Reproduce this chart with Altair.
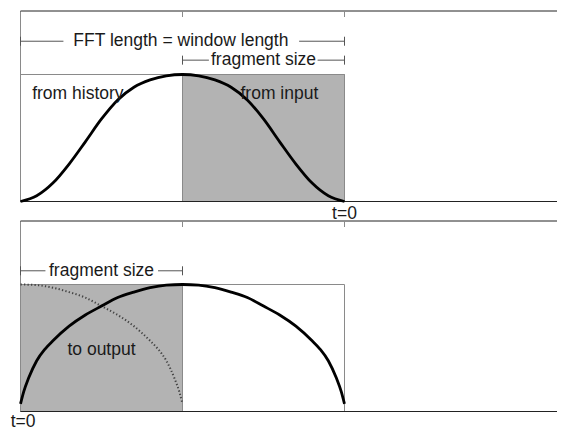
import altair as alt
import pandas as pd

# ---------------- data (x in fragment lengths from the window start, y in window amplitude) -------------
# analysis window (top): amplitude vs distance from the peak
analysis_d = [0.0, 0.1, 0.2, 0.3, 0.4, 0.5, 0.6, 0.7, 0.8, 0.9, 1.0]
analysis_v = [1.0, 0.99, 0.958, 0.9, 0.8, 0.65, 0.47, 0.295, 0.145, 0.045, 0.0]
# synthesis window (bottom): amplitude vs distance from the peak
synthesis_d = [0.0, 0.1, 0.2, 0.3, 0.4, 0.5, 0.6, 0.7, 0.8, 0.85, 0.9, 0.95, 0.98, 1.0]
synthesis_v = [1.0, 0.995, 0.975, 0.94, 0.897, 0.83, 0.76, 0.672, 0.557, 0.49, 0.40, 0.263, 0.157, 0.06]

panels = ["top", "bottom"]
panel_base = [2 / 127, -208 / 127]      # vertical offset of each panel's baseline
panel_block = [(1.0, 2.0), (0.0, 1.0)]  # shaded fragment in each panel

frame_top = 1.5
frame_right = 3.5
tick_u = [1.0, 2.0]

# dimension lines: (panel, y, [segments], [end bars])
dims = [
    ("top", 1.262, [(0.0, 0.265), (1.72, 2.0)], [0.0, 2.0]),
    ("top", 1.113, [(1.0, 1.163), (1.834, 2.0)], [1.0, 2.0]),
    ("bottom", 1.108, [(0.0, 0.154), (0.849, 1.0)], [0.0, 1.0]),
]
dim_labels = [("top", "FFT length = window length", 0.99, 1.262),
              ("top", "fragment size", 1.5, 1.113),
              ("bottom", "fragment size", 0.5, 1.108)]
left_labels = [("top", "from history", 0.072, 0.811),
               ("top", "from input", 1.358, 0.811)]
center_labels = [("top", "t=0", 2.0, -0.136),
                 ("bottom", "to output", 0.5, 0.446),
                 ("bottom", "t=0", 0.016, -0.122)]

# ---------------- scales ----------------
W, H = 549, 423
UNIT_X = 162.0
UNIT_Y = 127.0
XDOM = [(8 - 20.5) / UNIT_X, (8 + W - 20.5) / UNIT_X]
YDOM = [(203.5 - (8 + H)) / UNIT_Y, (203.5 - 8) / UNIT_Y]
base = dict(zip(panels, panel_base))


def X(f="u"):
    return alt.X(f"{f}:Q", scale=alt.Scale(domain=XDOM), axis=None)


def Y(f="y"):
    return alt.Y(f"{f}:Q", scale=alt.Scale(domain=YDOM), axis=None)


# ---------------- tables ----------------
frame_h, frame_v, ticks, blocks, outlines = [], [], [], [], []
for p, b, blk in zip(panels, panel_base, panel_block):
    frame_h += [dict(u=0.0, u2=frame_right, y=b + frame_top, y2=b + frame_top),
                dict(u=0.0, u2=frame_right, y=b, y2=b)]
    frame_v.append(dict(u=0.0, u2=0.0, y=b, y2=b + frame_top))
    for t in tick_u:
        ticks.append(dict(u=t, u2=t, y=b + frame_top - 6 / UNIT_Y, y2=b + frame_top))
    blocks.append(dict(u=blk[0], u2=blk[1], y=b, y2=b + 1.0))
    outlines.append(dict(u=0.0, u2=2.0, y=b, y2=b + 1.0))

dim_rows = []
for p, yv, segs, bars in dims:
    b = base[p]
    for s0, s1 in segs:
        dim_rows.append(dict(u=s0, u2=s1, y=b + yv, y2=b + yv))
    for bu in bars:
        dim_rows.append(dict(u=bu, u2=bu, y=b + yv - 4.5 / UNIT_Y, y2=b + yv + 4.5 / UNIT_Y))


def curve(d, v, b, mode):
    rows = []
    for dd, vv in zip(d, v):
        if mode == "sym":
            rows.append(dict(u=1 - dd, y=b + vv))
            if dd > 0:
                rows.append(dict(u=1 + dd, y=b + vv))
        else:
            rows.append(dict(u=dd, y=b + vv))
    return pd.DataFrame(rows).sort_values("u")


top_curve = curve(analysis_d, analysis_v, base["top"], "sym")
bot_curve = curve(synthesis_d, synthesis_v, base["bottom"], "sym")
prev_curve = curve(synthesis_d, synthesis_v, base["bottom"], "half")


def labels(rows):
    return pd.DataFrame([dict(label=t, u=u, y=base[p] + yv) for p, t, u, yv in rows])


FONT = "Liberation Sans"
FS = 17.5


def rules(rows, color, width=1.0):
    return alt.Chart(pd.DataFrame(rows)).mark_rule(color=color, strokeWidth=width).encode(
        x=X("u"), x2="u2:Q", y=Y("y"), y2="y2:Q")


block_layer = alt.Chart(pd.DataFrame(blocks)).mark_rect(
    fill="#b3b3b3", stroke="#8a8a8a", strokeWidth=1).encode(x=X("u"), x2="u2:Q", y=Y("y"), y2="y2:Q")
outline_layer = alt.Chart(pd.DataFrame(outlines)).mark_rect(
    filled=False, stroke="#8a8a8a", strokeWidth=1).encode(x=X("u"), x2="u2:Q", y=Y("y"), y2="y2:Q")

top_line = alt.Chart(top_curve).mark_line(color="black", strokeWidth=2.8, interpolate="monotone").encode(x=X("u"), y=Y("y"))
bot_line = alt.Chart(bot_curve).mark_line(color="black", strokeWidth=2.8, interpolate="monotone").encode(x=X("u"), y=Y("y"))
prev_line = alt.Chart(prev_curve).mark_line(color="#444444", strokeWidth=2, strokeDash=[1.3, 2.2],
                                            interpolate="monotone").encode(x=X("u"), y=Y("y"))

dim_text = alt.Chart(labels(dim_labels)).mark_text(
    align="center", baseline="middle", font=FONT, fontSize=FS, color="#1a1a1a").encode(x=X("u"), y=Y("y"), text="label:N")
left_text = alt.Chart(labels(left_labels)).mark_text(
    align="left", baseline="alphabetic", font=FONT, fontSize=FS, color="#1a1a1a").encode(x=X("u"), y=Y("y"), text="label:N")
center_text = alt.Chart(labels(center_labels)).mark_text(
    align="center", baseline="alphabetic", font=FONT, fontSize=FS, color="#1a1a1a").encode(x=X("u"), y=Y("y"), text="label:N")

chart = alt.layer(
    block_layer,
    outline_layer,
    rules(frame_v, "#8a8a8a"),
    rules(frame_h, "#222222"),
    rules(ticks, "#8a8a8a"),
    rules(dim_rows, "#555555"),
    prev_line,
    top_line,
    bot_line,
    dim_text,
    left_text,
    center_text,
).properties(
    width=W, height=H,
    autosize=alt.AutoSizeParams(type="none"),
    padding=0,
).configure_view(strokeWidth=0)

chart.save("out.html", embed_options={"renderer": "svg", "actions": False})
